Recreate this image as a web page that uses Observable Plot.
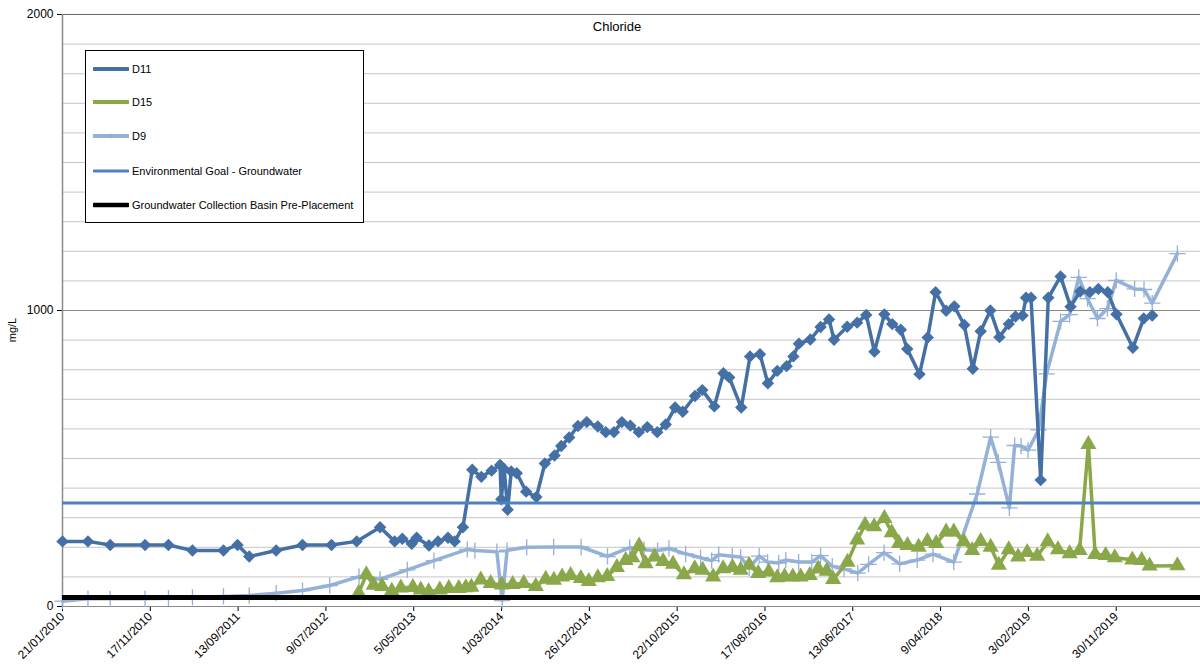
<!DOCTYPE html>
<html>
<head>
<meta charset="utf-8">
<script src="https://cdn.jsdelivr.net/npm/d3@7"></script>
<script src="https://cdn.jsdelivr.net/npm/@observablehq/plot@0.6"></script>
<style>
  body { margin: 0; background: #fff; font-family: "Liberation Sans", Arial, sans-serif; }
  #wrap { position: relative; width: 1200px; height: 666px; overflow: hidden; }
  #title { position: absolute; left: 540px; width: 154px; top: 19px; text-align: center; font-size: 13px; color: #000; }
  #ylabel { position: absolute; left: 12px; top: 330px; transform: translate(-50%, -50%) rotate(-90deg); font-size: 11px; color: #000; white-space: nowrap; }
  #legend { position: absolute; left: 85px; top: 50px; width: 279px; height: 173px; border: 1px solid #000; background: #fff; box-sizing: border-box; }
  .item { position: absolute; left: 7px; height: 14px; display: flex; align-items: center; font-size: 11px; color: #000; }
  .item svg { margin-right: 3px; }
</style>
</head>
<body>
<div id="wrap">
  <div id="chart"></div>
  <div id="title">Chloride</div>
  <div id="ylabel">mg/L</div>
  <div id="legend"></div>
</div>
<script>
// Sampling dates and chloride concentrations (mg/L) per bore
const d11Dates = ["2010-01-21","2010-04-18","2010-07-03","2010-10-30","2011-01-18","2011-04-10","2011-07-25","2011-09-11","2011-10-21","2012-01-21",
  "2012-04-20","2012-07-28","2012-10-22","2013-01-10","2013-03-01","2013-03-27","2013-04-28","2013-05-15","2013-06-26","2013-07-27",
  "2013-08-30","2013-09-22","2013-10-20","2013-11-21","2013-12-22","2014-01-26","2014-02-24","2014-02-28","2014-03-10","2014-03-22",
  "2014-04-03","2014-04-22","2014-05-24","2014-06-28","2014-07-27","2014-08-29","2014-09-21","2014-10-18","2014-11-17","2014-12-17",
  "2015-01-24","2015-02-20","2015-03-20","2015-04-16","2015-05-15","2015-06-13","2015-07-12","2015-08-15","2015-09-13","2015-10-15",
  "2015-11-10","2015-12-22","2016-01-16","2016-02-26","2016-03-28","2016-04-17","2016-05-28","2016-06-27","2016-07-31","2016-08-27",
  "2016-09-28","2016-10-30","2016-11-22","2016-12-11","2017-01-19","2017-02-23","2017-03-24","2017-04-10","2017-05-25","2017-06-28",
  "2017-07-29","2017-08-26","2017-09-29","2017-10-26","2017-11-24","2017-12-16","2018-01-27","2018-02-24","2018-03-23","2018-04-28",
  "2018-05-26","2018-06-29","2018-07-28","2018-08-24","2018-09-26","2018-10-27","2018-11-28","2018-12-21","2019-01-14","2019-01-26",
  "2019-02-12","2019-03-17","2019-04-12","2019-05-24","2019-06-27","2019-07-30","2019-09-01","2019-09-30","2019-11-01","2019-12-01",
  "2020-01-26","2020-03-03","2020-04-01"];
const d11Values = [220,220,208,208,208,189,189,208,169,189,
  208,208,220,268,220,229,212,232,206,220,
  232,220,268,462,438,459,478,362,464,327,
  456,450,388,370,483,510,542,571,610,623,
  608,589,589,623,611,589,606,589,615,672,
  658,711,731,676,788,774,672,845,852,754,
  796,812,845,888,902,944,970,901,945,959,
  985,861,987,954,935,870,785,909,1062,999,
  1014,951,803,930,1000,910,954,980,983,1043,
  1043,427,1043,1115,1013,1064,1062,1073,1062,987,
  874,973,983];

const d15Dates = ["2012-10-29","2012-11-24","2012-12-19","2013-01-17","2013-02-19","2013-03-22","2013-05-02","2013-05-29","2013-06-25","2013-08-02",
  "2013-09-02","2013-10-06","2013-10-30","2013-11-18","2013-12-20","2014-01-23","2014-03-02","2014-04-08","2014-05-16","2014-06-26",
  "2014-07-30","2014-08-27","2014-09-24","2014-10-23","2014-11-27","2014-12-24","2015-01-24","2015-02-25","2015-03-30","2015-04-29",
  "2015-05-22","2015-06-14","2015-07-06","2015-08-06","2015-09-04","2015-10-08","2015-11-14","2015-12-21","2016-01-17","2016-02-22",
  "2016-03-27","2016-04-28","2016-05-26","2016-06-24","2016-07-25","2016-08-30","2016-09-28","2016-10-23","2016-11-20","2016-12-17",
  "2017-01-17","2017-02-15","2017-03-16","2017-04-07","2017-05-26","2017-06-28","2017-07-25","2017-08-25","2017-09-29","2017-10-24",
  "2017-11-18","2017-12-17","2018-01-24","2018-02-23","2018-03-25","2018-04-28","2018-05-24","2018-06-27","2018-07-26","2018-08-24",
  "2018-09-27","2018-10-25","2018-11-28","2018-12-30","2019-01-30","2019-03-05","2019-04-10","2019-05-15","2019-06-24","2019-07-28",
  "2019-08-27","2019-09-19","2019-10-25","2019-11-25","2020-01-24","2020-02-25","2020-03-23","2020-06-26"];
const d15Values = [45,108,72,68,52,63,65,56,50,56,
  61,61,64,66,90,78,73,75,78,68,
  93,89,100,105,95,85,98,102,132,156,
  165,205,145,168,153,143,108,128,123,100,
  128,132,123,140,112,117,98,101,100,100,
  105,127,120,92,150,225,275,270,298,250,
  213,207,201,220,213,252,252,219,190,220,
  201,140,192,168,183,170,219,192,179,190,
  548,176,173,165,158,156,137,138];

const d9Dates = ["2010-01-21","2010-04-18","2010-07-03","2010-10-30","2011-01-18","2011-04-10","2011-07-25","2011-10-21","2012-01-21","2012-04-20",
  "2012-07-22","2012-10-30","2013-01-10","2013-04-13","2013-07-13","2013-11-04","2013-11-30","2014-02-13","2014-03-03","2014-03-20",
  "2014-05-26","2014-08-26","2014-11-28","2015-02-26","2015-05-13","2015-07-01","2015-08-16","2015-09-24","2015-11-20","2016-01-10",
  "2016-02-17","2016-03-12","2016-04-27","2016-05-26","2016-06-24","2016-07-28","2016-08-26","2016-10-03","2016-10-27","2016-12-10",
  "2017-01-24","2017-02-23","2017-04-04","2017-05-14","2017-06-30","2017-08-06","2017-09-28","2017-11-20","2018-01-19","2018-03-14",
  "2018-05-24","2018-08-12","2018-09-27","2018-10-23","2018-11-30","2018-12-18","2019-01-09","2019-02-02","2019-03-10","2019-04-06",
  "2019-05-24","2019-06-24","2019-07-25","2019-08-24","2019-09-27","2019-10-31","2019-11-30","2020-02-01","2020-03-04","2020-04-01",
  "2020-06-26"];
const d9Values = [18,26,26,26,28,31,34,37,45,54,
  71,101,92,124,155,193,189,185,20,190,
  200,201,201,169,199,192,189,196,178,165,
  155,175,170,167,130,170,150,147,157,150,
  150,172,136,127,113,142,182,144,157,177,
  150,380,572,487,333,544,542,528,597,786,
  963,986,1112,1040,973,1006,1102,1073,1071,1025,
  1192];

// Reference levels (mg/L)
const environmentalGoal = 350;
const basinPrePlacement = 30;

// Axis settings
const xStart = "2010-01-21";
const xEnd = "2020-09-13";
const xTickDates = ["2010-01-21","2010-11-17","2011-09-13","2012-07-09","2013-05-05","2014-03-01","2014-12-26",
  "2015-10-22","2016-08-17","2017-06-13","2018-04-09","2019-02-03","2019-11-30"];
const yLabelTicks = [0, 1000, 2000];
const yGridValues = [100,200,300,400,500,600,700,800,900,1100,1200,1300,1400,1500,1600,1700,1800,1900];

const colors = { D11: "#4470a6", D15: "#8aa84a", D9: "#95b1d8", goal: "#4f81bd", basin: "#000000" };

const parse = d3.utcParse("%Y-%m-%d");
const fmt = d3.utcFormat("%-d/%m/%Y");
const rows = (dates, values) => dates.map((d, i) => ({ date: parse(d), value: values[i] }));
const d11 = rows(d11Dates, d11Values);
const d15 = rows(d15Dates, d15Values);
const d9 = rows(d9Dates, d9Values);

const diamond = d3.symbolDiamond2 || d3.symbolDiamond;

const chart = Plot.plot({
  width: 1200,
  height: 666,
  marginLeft: 62,
  marginRight: 0,
  marginTop: 14,
  marginBottom: 60,
  style: { fontFamily: "'Liberation Sans', Arial, sans-serif", fontSize: "12px", color: "#000", background: "#fff" },
  x: {
    type: "utc",
    domain: [parse(xStart), parse(xEnd)],
    ticks: xTickDates.map(parse),
    tickFormat: fmt,
    tickRotate: -45,
    tickSize: 5,
    tickPadding: 3,
    label: null
  },
  y: {
    domain: [0, 2000],
    ticks: yLabelTicks,
    tickFormat: d3.format("d"),
    tickSize: 5,
    tickPadding: 4,
    label: null
  },
  marks: [
    Plot.ruleY(yGridValues, { stroke: "#c6c6c6", strokeWidth: 1 }),
    Plot.ruleY([1000], { stroke: "#8a8a8a", strokeWidth: 1 }),
    Plot.ruleY([2000], { stroke: "#666", strokeWidth: 1 }),
    Plot.ruleY([0], { stroke: "#8a8a8a", strokeWidth: 1 }),
    Plot.ruleX([parse(xStart)], { stroke: "#8a8a8a", strokeWidth: 1.5 }),
    // D9
    Plot.line(d9, { x: "date", y: "value", stroke: colors.D9, strokeWidth: 3.5, strokeLinejoin: "round" }),
    Plot.dot(d9, { x: "date", y: "value", symbol: "plus", r: 5.3, stroke: colors.D9, strokeWidth: 1.3 }),
    // D15
    Plot.line(d15, { x: "date", y: "value", stroke: colors.D15, strokeWidth: 3.5, strokeLinejoin: "round" }),
    Plot.dot(d15, { x: "date", y: "value", symbol: "triangle", r: 6, fill: colors.D15, stroke: "none" }),
    // D11
    Plot.line(d11, { x: "date", y: "value", stroke: colors.D11, strokeWidth: 3.5, strokeLinejoin: "round" }),
    Plot.dot(d11, { x: "date", y: "value", symbol: diamond, r: 5.6, fill: colors.D11, stroke: "none" }),
    // Reference lines
    Plot.ruleY([environmentalGoal], { stroke: colors.goal, strokeWidth: 3 }),
    Plot.ruleY([basinPrePlacement], { stroke: colors.basin, strokeWidth: 5 })
  ]
});
document.getElementById("chart").appendChild(chart);

// Legend
const legendItems = [
  { name: "D11", color: colors.D11, width: 4, marker: "diamond" },
  { name: "D15", color: colors.D15, width: 4, marker: "triangle" },
  { name: "D9", color: colors.D9, width: 4, marker: "plus" },
  { name: "Environmental Goal - Groundwater", color: colors.goal, width: 3, marker: null },
  { name: "Groundwater Collection Basin Pre-Placement", color: colors.basin, width: 4.5, marker: null }
];
const legendTops = [11, 44, 78, 113, 147];
const legend = document.getElementById("legend");
legendItems.forEach((it, i) => {
  const div = document.createElement("div");
  div.className = "item";
  div.style.top = legendTops[i] + "px";
  let mark = "";
  if (it.marker === "diamond") mark = `<path d="M18,5 L20,7 L18,9 L16,7Z" fill="${it.color}"/>`;
  if (it.marker === "triangle") mark = `<path d="M18,5 L20,8.5 L16,8.5Z" fill="${it.color}"/>`;
  if (it.marker === "plus") mark = `<path d="M18,4.5 V9.5 M15.5,7 H20.5" stroke="${it.color}" stroke-width="0.8"/>`;
  div.innerHTML = `<svg width="36" height="14"><line x1="1" x2="35" y1="7" y2="7" stroke="${it.color}" stroke-width="${it.width}" stroke-linecap="round"/>${mark}</svg><span>${it.name}</span>`;
  legend.appendChild(div);
});
</script>
</body>
</html>
